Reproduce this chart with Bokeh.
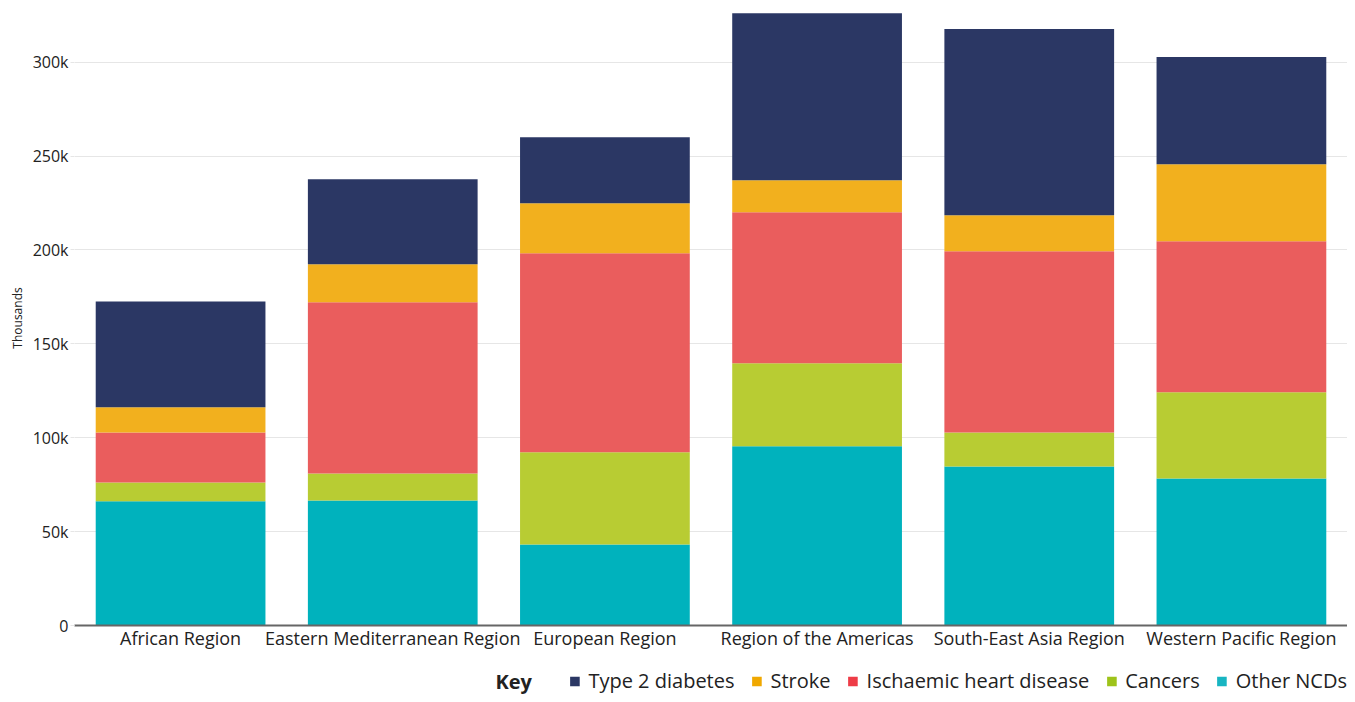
from bokeh.plotting import figure
from bokeh.models import FactorRange, Legend, LegendItem, NumeralTickFormatter, FixedTicker, Label, Range1d
from bokeh.layouts import column
from bokeh.embed import file_html
from bokeh.resources import INLINE

regions = ["African Region", "Eastern Mediterranean Region", "European Region",
           "Region of the Americas", "South-East Asia Region", "Western Pacific Region"]
other_ncds = [66100, 66600, 43200, 95400, 84700, 78300]
cancers = [10100, 14400, 49000, 44200, 18100, 45900]
ihd = [26600, 91100, 106000, 80400, 96500, 80400]
stroke = [13400, 20300, 26700, 17100, 19200, 41000]
diabetes = [56400, 45200, 35100, 89000, 99100, 57100]

series = ["other_ncds", "cancers", "ihd", "stroke", "diabetes"]
bar_colors = ["#00B2BD", "#B8CC33", "#EA5D5D", "#F2B01E", "#2B3764"]
legend_labels = ["Type 2 diabetes", "Stroke", "Ischaemic heart disease", "Cancers", "Other NCDs"]
legend_colors = ["#2B3764", "#F0A800", "#EE3C47", "#9EC31A", "#18B5C2"]

FONT = "Open Sans"
TEXT = "#222222"

data = dict(region=regions, other_ncds=other_ncds, cancers=cancers, ihd=ihd,
            stroke=stroke, diabetes=diabetes)

W = 1347
LEFT = 74
p = figure(x_range=FactorRange(*regions, range_padding=0), y_range=Range1d(0, 327500),
           width=W, height=668, output_backend="svg", toolbar_location=None,
           min_border_left=LEFT, min_border_right=0, min_border_top=10, min_border_bottom=43)

p.vbar_stack(series, x="region", width=0.8, color=bar_colors, line_color=None, source=data)

p.outline_line_color = None
p.xgrid.grid_line_color = None
p.ygrid.grid_line_color = "#e6e6e6"

p.yaxis.ticker = FixedTicker(ticks=[0, 50000, 100000, 150000, 200000, 250000, 300000])
p.yaxis.formatter = NumeralTickFormatter(format="0a")
p.yaxis.axis_line_color = None
p.yaxis.major_tick_line_color = "#e6e6e6"
p.yaxis.major_tick_out = 4
p.yaxis.major_tick_in = 0
p.yaxis.minor_tick_line_color = None
p.yaxis.major_label_text_font = FONT
p.yaxis.major_label_text_font_size = "16px"
p.yaxis.major_label_text_color = TEXT
p.yaxis.major_label_standoff = 2
p.yaxis.axis_label = "Thousands"
p.yaxis.axis_label_text_font = FONT
p.yaxis.axis_label_text_font_size = "12px"
p.yaxis.axis_label_text_font_style = "normal"
p.yaxis.axis_label_text_color = TEXT
p.yaxis.axis_label_standoff = 4

p.xaxis.axis_line_color = "#666666"
p.xaxis.axis_line_width = 2
p.xaxis.major_tick_line_color = None
p.xaxis.major_tick_out = 0
p.xaxis.minor_tick_line_color = None
p.xaxis.major_label_text_font = FONT
p.xaxis.major_label_text_font_size = "18px"
p.xaxis.major_label_text_color = TEXT
p.xaxis.major_label_standoff = 0

# legend strip (frame is aligned with the main plot's frame, so use pixel coords from LEFT)
LH = 26
lg = figure(width=W, height=LH, x_range=Range1d(LEFT, W), y_range=Range1d(0, LH),
            output_backend="svg", toolbar_location=None,
            x_axis_location=None, y_axis_location=None,
            min_border=0, min_border_left=LEFT, min_border_right=0, min_border_top=0, min_border_bottom=0)
lg.outline_line_color = None
lg.xgrid.grid_line_color = None
lg.ygrid.grid_line_color = None

items = []
for lab, col in zip(legend_labels, legend_colors):
    r = lg.vbar(x=[-1000], top=[-1000], bottom=[-1001], width=1, fill_color=col, line_color=None)
    items.append(LegendItem(label=lab, renderers=[r]))

legend = Legend(items=items, orientation="horizontal", location="bottom_right",
                label_text_font=FONT, label_text_font_size="20px", label_text_color=TEXT,
                glyph_width=12, glyph_height=12, spacing=16, label_standoff=8,
                padding=0, margin=0, border_line_color=None, background_fill_alpha=0)
lg.add_layout(legend, "center")

key = Label(x=495, y=LH / 2, text="Key", text_baseline="middle",
            text_font=FONT, text_font_size="20px", text_font_style="bold", text_color=TEXT)
lg.add_layout(key)

layout = column(p, lg, spacing=0)
open("out.html", "w").write(file_html(layout, INLINE))
